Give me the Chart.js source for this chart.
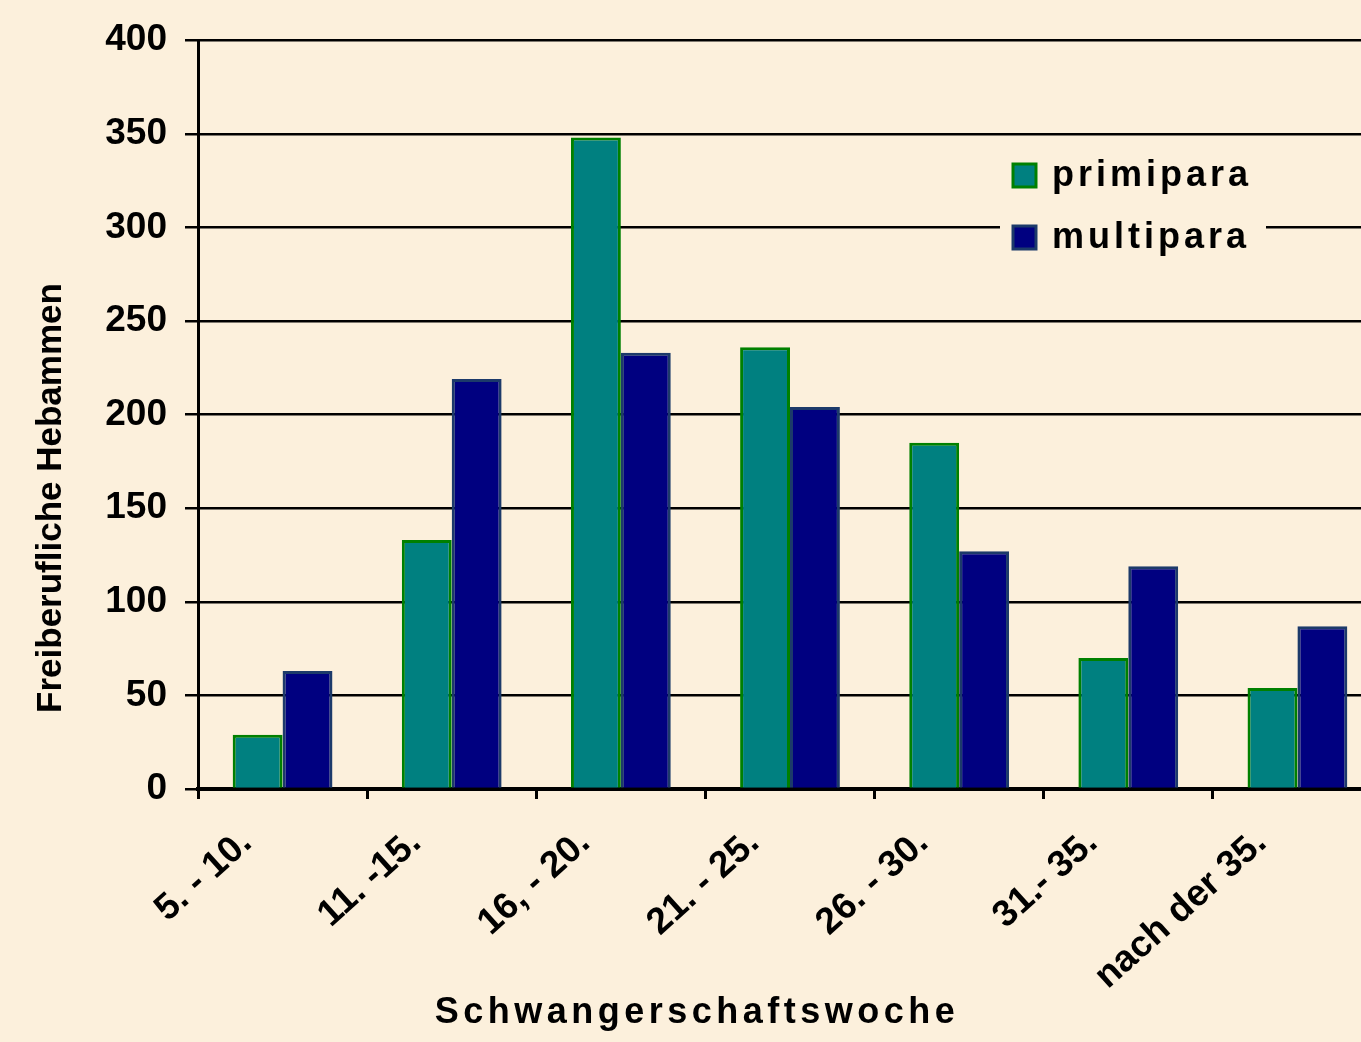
<!DOCTYPE html>
<html>
<head>
<meta charset="utf-8">
<script src="https://cdn.jsdelivr.net/npm/chart.js@4.4.0/dist/chart.umd.min.js"></script>
<style>
  html, body { margin: 0; padding: 0; background: #fcf0dc; overflow: hidden; }
  #wrap { width: 1386px; height: 1042px; }
</style>
</head>
<body>
<div id="wrap"><canvas id="chart"></canvas></div>
<script>
const labels = ["5. - 10.", "11. -15.", "16, - 20.", "21. - 25.", "26. - 30.", "31.- 35.", "nach der 35."];
const primipara = [29, 133, 348, 236, 185, 70, 54];
const multipara = [63, 219, 233, 204, 127, 119, 87];
const yTicks = [0, 50, 100, 150, 200, 250, 300, 350, 400];

const FONT = "'Liberation Sans', Arial, sans-serif";

// background, axis titles and legend box drawn by hand
const decor = {
  id: "decor",
  beforeDraw(chart) {
    const ctx = chart.ctx;
    ctx.save();
    ctx.fillStyle = "#fcf0dc";
    ctx.fillRect(0, 0, chart.width, chart.height);
    ctx.restore();
  },
  afterDraw(chart) {
    const ctx = chart.ctx;
    ctx.save();
    // legend
    ctx.fillStyle = "#fcf0dc";
    ctx.fillRect(1000, 150, 266, 115);
    chart.data.datasets.forEach((ds, i) => {
      const y = 175 + i * 62;
      ctx.fillStyle = ds.backgroundColor;
      ctx.fillRect(1013, y - 11, 23, 23);
      ctx.strokeStyle = ds.borderColor;
      ctx.lineWidth = 3;
      ctx.strokeRect(1013, y - 11, 23, 23);
      ctx.fillStyle = "#000";
      ctx.font = "bold 36px " + FONT;
      ctx.letterSpacing = "4px";
      ctx.textBaseline = "middle";
      ctx.textAlign = "left";
      ctx.fillText(ds.label, 1052, y + 1);
    });
    // x title
    ctx.font = "bold 36px " + FONT;
    ctx.letterSpacing = "4.5px";
    ctx.textAlign = "center";
    ctx.textBaseline = "middle";
    ctx.fillStyle = "#000";
    ctx.fillText("Schwangerschaftswoche", 697, 1013);
    // y title
    ctx.letterSpacing = "0px";
    ctx.translate(51, 498);
    ctx.rotate(-Math.PI / 2);
    ctx.font = "bold 35px " + FONT;
    ctx.fillText("Freiberufliche Hebammen", 0, 0);
    ctx.restore();
  }
};

new Chart(document.getElementById("chart"), {
  type: "bar",
  data: {
    labels: labels,
    datasets: [
      {
        label: "primipara",
        data: primipara,
        backgroundColor: "#008080",
        borderColor: "#008000",
        borderWidth: 3,
        categoryPercentage: 0.59,
        barPercentage: 1.0
      },
      {
        label: "multipara",
        data: multipara,
        backgroundColor: "#000080",
        borderColor: "#1c3a6a",
        borderWidth: 3,
        categoryPercentage: 0.59,
        barPercentage: 1.0
      }
    ]
  },
  options: {
    responsive: true,
    maintainAspectRatio: false,
    animation: false,
    layout: { padding: { top: 39, right: 4, left: 0, bottom: 0 } },
    plugins: {
      legend: { display: false },
      tooltip: { enabled: false }
    },
    scales: {
      x: {
        grid: {
          display: true,
          drawOnChartArea: false,
          drawTicks: true,
          tickLength: 10,
          color: "#000",
          lineWidth: 3,
          offset: true
        },
        border: { color: "#000", width: 4 },
        ticks: {
          color: "#000",
          font: { family: FONT, size: 37, weight: "bold" },
          minRotation: 42,
          maxRotation: 42,
          autoSkip: false,
          padding: 22,
          labelOffset: -36
        },
        afterFit(s) { s.height = 253; }
      },
      y: {
        min: 0,
        max: 400,
        afterBuildTicks(s) { s.ticks = yTicks.map(v => ({ value: v })); },
        grid: {
          color: "#000",
          lineWidth: 2.5,
          tickLength: 13
        },
        border: { color: "#000", width: 3 },
        ticks: {
          color: "#000",
          font: { family: FONT, size: 37, weight: "bold" },
          padding: 18
        },
        afterFit(s) { s.width = 198; }
      }
    }
  },
  plugins: [decor]
});
</script>
</body>
</html>
